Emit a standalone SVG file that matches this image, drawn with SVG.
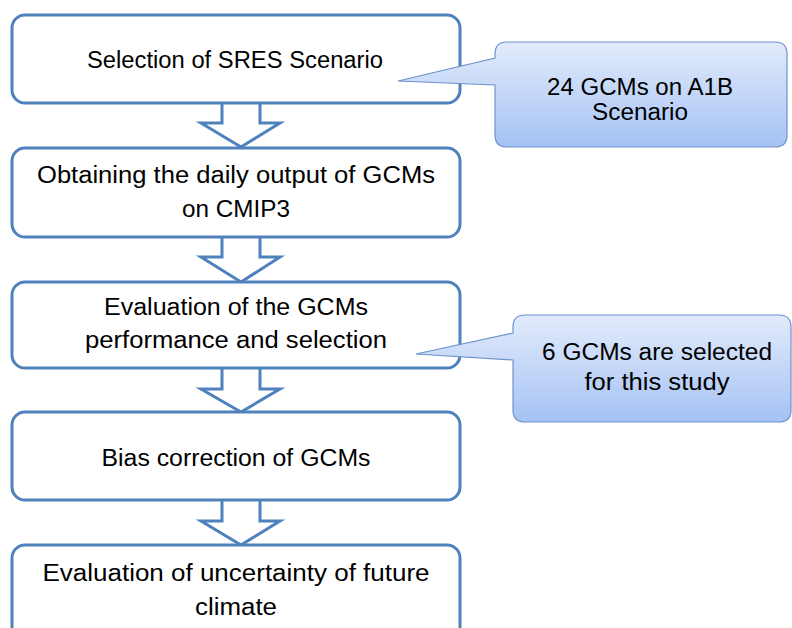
<svg xmlns="http://www.w3.org/2000/svg" width="792" height="628" viewBox="0 0 792 628">
<defs>
<linearGradient id="cg" x1="0" y1="0" x2="0" y2="1">
<stop offset="0" stop-color="#e2ebfb"/>
<stop offset="1" stop-color="#a5c2f4"/>
</linearGradient>
<style>
.box{fill:#ffffff;stroke:#4f81bd;stroke-width:3}
.arr{fill:#ffffff;stroke:#4f81bd;stroke-width:3;stroke-linejoin:miter}
.call{fill:url(#cg);stroke:#6c93cf;stroke-width:1.2}
text{font-family:"Liberation Sans",Arial,sans-serif;font-size:23px;fill:#000000;text-anchor:middle}
</style>
</defs>
<rect width="792" height="628" fill="#ffffff"/>
<g id="connectors">
<path class="arr" d="M222,103 V123 H201 L241,147 L280,123 H260 V103"/>
<path class="arr" d="M222,237 V257 H201 L241,282 L280,257 H260 V237"/>
<path class="arr" d="M222,368 V389 H201 L241,412 L280,389 H260 V368"/>
<path class="arr" d="M222,500 V521 H201 L241,545 L280,521 H260 V500"/>
</g>
<g id="n1">
<rect class="box" x="12" y="15" width="448" height="88" rx="13"/>
<text x="235" y="68" textLength="296" lengthAdjust="spacingAndGlyphs">Selection of SRES Scenario</text>
</g>
<g id="n2">
<rect class="box" x="12" y="148" width="448" height="89" rx="13"/>
<text x="236" y="183" textLength="398" lengthAdjust="spacingAndGlyphs">Obtaining the daily output of GCMs</text>
<text x="236" y="217" textLength="108" lengthAdjust="spacingAndGlyphs">on CMIP3</text>
</g>
<g id="n3">
<rect class="box" x="12" y="282" width="448" height="86" rx="13"/>
<text x="236" y="315" textLength="264" lengthAdjust="spacingAndGlyphs">Evaluation of the GCMs</text>
<text x="236" y="348" textLength="302" lengthAdjust="spacingAndGlyphs">performance and selection</text>
</g>
<g id="n4">
<rect class="box" x="12" y="412" width="448" height="88" rx="13"/>
<text x="236" y="466" textLength="269" lengthAdjust="spacingAndGlyphs">Bias correction of GCMs</text>
</g>
<g id="n5">
<rect class="box" x="12" y="545" width="448" height="95" rx="13"/>
<text x="236" y="581" textLength="387" lengthAdjust="spacingAndGlyphs">Evaluation of uncertainty of future</text>
<text x="236" y="615" textLength="82" lengthAdjust="spacingAndGlyphs">climate</text>
</g>
<g id="c1">
<path class="call" d="M507,42 H775 Q787,42 787,54 V135 Q787,147 775,147 H507 Q495,147 495,135 V85 L398,81 L495,58 V54 Q495,42 507,42 Z"/>
<text x="640" y="95" textLength="186" lengthAdjust="spacingAndGlyphs">24 GCMs on A1B</text>
<text x="640" y="120" textLength="96" lengthAdjust="spacingAndGlyphs">Scenario</text>
</g>
<g id="c2">
<path class="call" d="M525,315 H779 Q791,315 791,327 V410 Q791,422 779,422 H525 Q513,422 513,410 V360 L416,354 L513,333 V327 Q513,315 525,315 Z"/>
<text x="657" y="360" textLength="230" lengthAdjust="spacingAndGlyphs">6 GCMs are selected</text>
<text x="657" y="390" textLength="145" lengthAdjust="spacingAndGlyphs">for this study</text>
</g>
</svg>
